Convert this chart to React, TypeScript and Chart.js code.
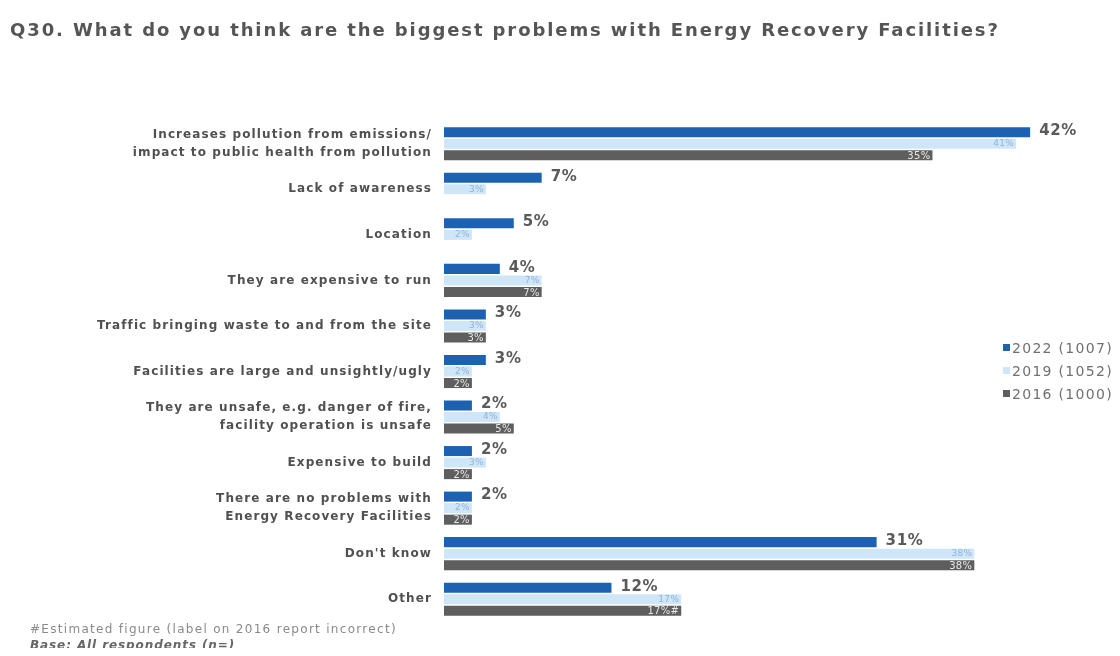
import React, { useEffect, useRef } from "react";
import { Chart, registerables } from "chart.js";

Chart.register(...registerables);

const categories: (string | string[])[] = [
  ["Increases pollution from emissions/", "impact to public health from pollution"],
  "Lack of awareness",
  "Location",
  "They are expensive to run",
  "Traffic bringing waste to and from the site",
  "Facilities are large and unsightly/ugly",
  ["They are unsafe, e.g. danger of fire,", "facility operation is unsafe"],
  "Expensive to build",
  ["There are no problems with", "Energy Recovery Facilities"],
  "Don't know",
  "Other",
];
const values2022 = [42, 7, 5, 4, 3, 3, 2, 2, 2, 31, 12];
const values2019 = [41, 3, 2, 7, 3, 2, 4, 3, 2, 38, 17];
const values2016: (number | null)[] = [35, null, null, 7, 3, 2, 5, 2, 2, 38, 17];
const labels2016 = ["35%", "", "", "7%", "3%", "2%", "5%", "2%", "2%", "38%", "17%#"];
const seriesNames = ["2022 (1007)", "2019 (1052)", "2016 (1000)"];
const colors = ["#1c62b0", "#cfe6f8", "#5e5e5e"];

const FONT = "'DejaVu Sans', Verdana, sans-serif";

const labelPlugin = {
  id: "barLabels",
  afterDatasetsDraw(chart: any) {
    const ctx = chart.ctx;
    ctx.save();
    const yScale = chart.scales.y;
    ctx.font = `bold 12px ${FONT}`;
    (ctx as any).letterSpacing = "1.1px";
    ctx.fillStyle = "#505050";
    ctx.textAlign = "right";
    ctx.textBaseline = "middle";
    categories.forEach((c, i) => {
      const cy = yScale.getPixelForValue(i);
      const lines = Array.isArray(c) ? c : [c];
      const lh = 18;
      lines.forEach((ln, k) => {
        const yy = cy + (k - (lines.length - 1) / 2) * lh;
        ctx.fillText(ln, chart.chartArea.left - 12, yy);
      });
    });
    chart.data.datasets.forEach((ds: any, di: number) => {
      const meta = chart.getDatasetMeta(di);
      meta.data.forEach((bar: any, i: number) => {
        const v = ds.data[i];
        if (v === null || v === undefined) return;
        const x = bar.x;
        const y = bar.y;
        if (di === 0) {
          ctx.font = `bold 15px ${FONT}`;
          (ctx as any).letterSpacing = "0.6px";
          ctx.fillStyle = "#5a5a5a";
          ctx.textAlign = "left";
          ctx.textBaseline = "middle";
          ctx.fillText(`${v}%`, x + 9, y - 1);
        } else if (di === 1) {
          ctx.font = `9px ${FONT}`;
          (ctx as any).letterSpacing = "0.3px";
          ctx.fillStyle = "#8fb4d8";
          ctx.textAlign = "right";
          ctx.textBaseline = "middle";
          ctx.fillText(`${v}%`, x - 2, y);
        } else {
          ctx.font = `10px ${FONT}`;
          (ctx as any).letterSpacing = "0.3px";
          ctx.fillStyle = "#e8e8e8";
          ctx.textAlign = "right";
          ctx.textBaseline = "middle";
          ctx.fillText(labels2016[i], x - 2, y + 1);
        }
      });
    });
    ctx.restore();
  },
};

export default function App() {
  const ref = useRef<HTMLCanvasElement>(null);
  useEffect(() => {
    if (!ref.current) return;
    const chart = new Chart(ref.current, {
      type: "bar",
      data: {
        labels: categories,
        datasets: [
          { label: seriesNames[0], data: values2022, backgroundColor: colors[0] },
          { label: seriesNames[1], data: values2019, backgroundColor: colors[1] },
          { label: seriesNames[2], data: values2016, backgroundColor: colors[2] },
        ],
      },
      options: {
        indexAxis: "y",
        animation: false,
        responsive: false,
        maintainAspectRatio: false,
        layout: { padding: { top: 113, bottom: 26, left: 436, right: 40 } },
        datasets: {
          bar: { categoryPercentage: 0.76, barPercentage: 0.87 },
        },
        plugins: {
          legend: { display: false },
          tooltip: { enabled: false },
          title: { display: false },
        },
        scales: {
          x: {
            min: 0,
            max: 45,
            display: false,
            grid: { display: false },
          },
          y: {
            display: false,
            grid: { display: false },
            border: { display: false },
          },
        },
      } as any,
      plugins: [labelPlugin],
    });
    return () => chart.destroy();
  }, []);

  return (
    <div style={{ position: "relative", width: 1104, height: 640, background: "#fff" }}>
      <canvas ref={ref} width={1104} height={640} style={{ position: "absolute", left: 0, top: 0 }} />
      <div
        style={{
          position: "absolute",
          left: 2,
          top: 11,
          fontFamily: FONT,
          fontWeight: "bold",
          fontSize: 18,
          letterSpacing: "1.9px",
          color: "#555555",
          whiteSpace: "nowrap",
        }}
      >
        Q30. What do you think are the biggest problems with Energy Recovery Facilities?
      </div>
      <div
        style={{
          position: "absolute",
          left: 995,
          top: 328,
          fontFamily: FONT,
          fontSize: 14,
          letterSpacing: "1.3px",
          color: "#707070",
        }}
      >
        {seriesNames.map((n, i) => (
          <div key={n} style={{ display: "flex", alignItems: "center", height: 23, whiteSpace: "nowrap" }}>
            <span
              style={{ display: "inline-block", width: 7, height: 7, background: colors[i], marginRight: 2 }}
            />
            {n}
          </div>
        ))}
      </div>
      <div
        style={{
          position: "absolute",
          left: 22,
          top: 613,
          fontFamily: FONT,
          fontSize: 12,
          letterSpacing: "1.3px",
          color: "#8a8a8a",
          whiteSpace: "nowrap",
          lineHeight: "16px",
        }}
      >
        <div>#Estimated figure (label on 2016 report incorrect)</div>
        <div style={{ fontWeight: "bold", fontStyle: "italic", color: "#666", letterSpacing: "0.9px" }}>
          Base: All respondents (n=)
        </div>
      </div>
    </div>
  );
}
